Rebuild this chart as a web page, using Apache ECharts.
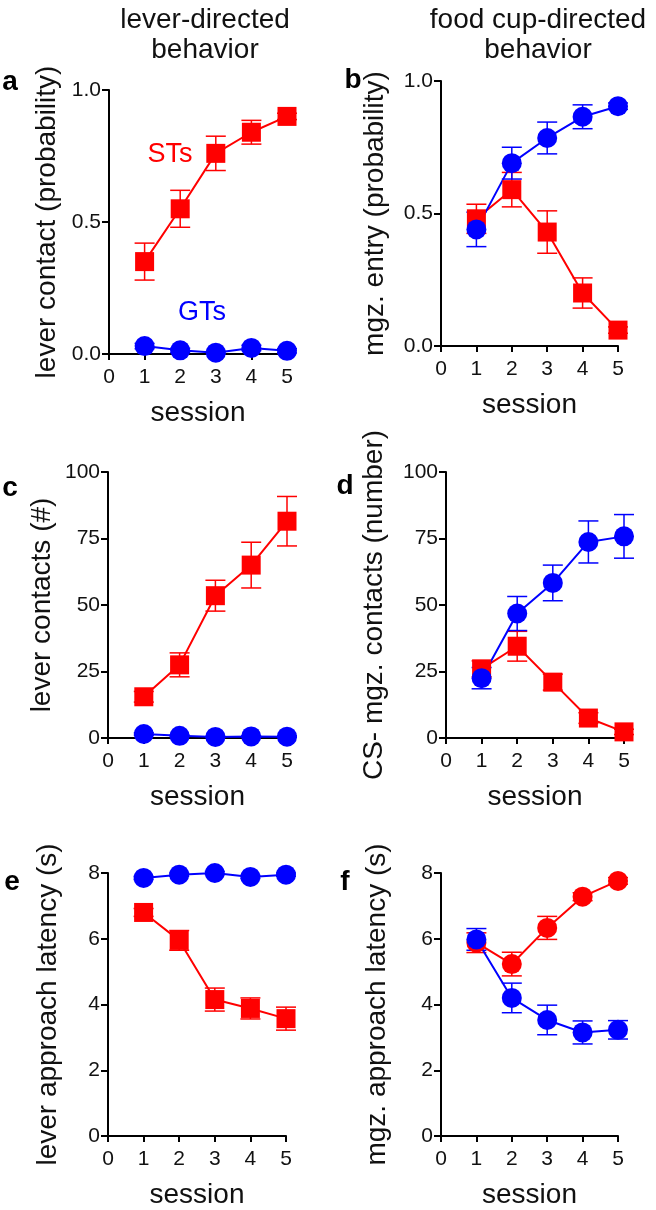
<!DOCTYPE html>
<html>
<head>
<meta charset="utf-8">
<script src="https://cdn.jsdelivr.net/npm/echarts@6/dist/echarts.min.js"></script>
<style>
  html, body { margin: 0; padding: 0; background: #fff; }
  #chart { width: 656px; height: 1210px; }
</style>
</head>
<body>
<div id="chart"></div>
<script>
// sessions on the x axis
const sessions = [1, 2, 3, 4, 5];

// a: lever contact (probability)
const leverProbST = [0.35, 0.55, 0.76, 0.84, 0.90];
const leverProbSTErr = [0.07, 0.07, 0.065, 0.045, 0.012];
const leverProbGT = [0.03, 0.014, 0.005, 0.023, 0.012];
const leverProbGTErr = [0.01, 0.008, 0.005, 0.01, 0.008];

// b: mgz. entry (probability)
const mgzProbST = [0.48, 0.59, 0.43, 0.20, 0.06];
const mgzProbSTErr = [0.055, 0.065, 0.08, 0.057, 0.012];
const mgzProbGT = [0.44, 0.69, 0.785, 0.865, 0.905];
const mgzProbGTErr = [0.065, 0.06, 0.06, 0.045, 0.012];

// c: lever contacts (#)
const leverNumST = [15.5, 27.5, 53.5, 65, 81.5];
const leverNumSTErr = [2, 4.5, 5.8, 8.6, 9.3];
const leverNumGT = [1.5, 0.8, 0.4, 0.6, 0.5];
const leverNumGTErr = [0.5, 0.3, 0.2, 0.3, 0.3];

// d: CS- mgz. contacts (number)
const mgzNumST = [26, 34.5, 21, 7.5, 2.3];
const mgzNumSTErr = [3, 5.6, 3, 2, 1];
const mgzNumGT = [22.5, 46.8, 58.3, 73.7, 75.8];
const mgzNumGTErr = [4, 6.4, 6.7, 7.9, 8.2];

// e: lever approach latency (s)
const leverLatST = [6.8, 5.95, 4.15, 3.88, 3.57];
const leverLatSTErr = [0.12, 0.3, 0.35, 0.32, 0.35];
const leverLatGT = [7.85, 7.95, 8.0, 7.88, 7.95];
const leverLatGTErr = [0.05, 0.05, 0.05, 0.05, 0.05];

// f: mgz. approach latency (s)
const mgzLatST = [5.88, 5.23, 6.33, 7.28, 7.76];
const mgzLatSTErr = [0.3, 0.36, 0.35, 0.12, 0.1];
const mgzLatGT = [5.98, 4.2, 3.53, 3.15, 3.23];
const mgzLatGTErr = [0.33, 0.45, 0.45, 0.35, 0.28];

const RED = '#ff0000';
const BLUE = '#0000ff';
const FONT = 'Liberation Sans, Arial, Helvetica, sans-serif';

let chart = echarts.init(document.getElementById('chart'));

let grids = [];
let xAxes = [];
let yAxes = [];
let series = [];

function errSeries(idx, vals, errs, color) {
  return {
    type: 'custom',
    xAxisIndex: idx,
    yAxisIndex: idx,
    clip: false,
    silent: true,
    data: sessions.map((s, i) => [s, vals[i] - errs[i], vals[i] + errs[i]]),
    renderItem: function (params, api) {
      let lo = api.coord([api.value(0), api.value(1)]);
      let hi = api.coord([api.value(0), api.value(2)]);
      let w = 10;
      let st = { stroke: color, lineWidth: 1.5 };
      return {
        type: 'group',
        children: [
          { type: 'line', shape: { x1: lo[0], y1: lo[1], x2: hi[0], y2: hi[1] }, style: st },
          { type: 'line', shape: { x1: lo[0] - w, y1: lo[1], x2: lo[0] + w, y2: lo[1] }, style: st },
          { type: 'line', shape: { x1: hi[0] - w, y1: hi[1], x2: hi[0] + w, y2: hi[1] }, style: st }
        ]
      };
    }
  };
}

function lineSeries(idx, vals, color, symbol) {
  return {
    type: 'line',
    xAxisIndex: idx,
    yAxisIndex: idx,
    clip: false,
    symbol: symbol,
    symbolSize: symbol === 'rect' ? 19 : 20,
    showAllSymbol: true,
    lineStyle: { color: color, width: 2 },
    itemStyle: { color: color },
    data: sessions.map((s, i) => [s, vals[i]])
  };
}

function panel(p) {
  let idx = grids.length;
  grids.push({ left: p.left, top: p.top, width: p.width, height: p.height });
  xAxes.push({
    gridIndex: idx,
    type: 'value',
    min: 0, max: 5, interval: 1,
    name: 'session',
    nameLocation: 'middle',
    nameGap: 45,
    nameTextStyle: { fontFamily: FONT, fontSize: 28, color: '#111' },
    axisLine: { onZero: false, lineStyle: { color: '#000', width: 2 } },
    axisTick: { length: 6, lineStyle: { color: '#000', width: 2 } },
    axisLabel: { fontFamily: FONT, fontSize: 21, color: '#111', margin: 13 },
    splitLine: { show: false }
  });
  yAxes.push({
    gridIndex: idx,
    type: 'value',
    min: p.min, max: p.max, interval: p.interval,
    name: p.yName,
    nameLocation: 'middle',
    nameRotate: 90,
    nameGap: p.nameGap,
    nameTextStyle: { fontFamily: FONT, fontSize: 28, color: '#111' },
    axisLine: { show: true, lineStyle: { color: '#000', width: 2 } },
    axisTick: { show: true, length: 7, lineStyle: { color: '#000', width: 2 } },
    axisLabel: {
      fontFamily: FONT, fontSize: 21, color: '#111', margin: 8,
      formatter: p.fmt
    },
    splitLine: { show: false }
  });
  series.push(errSeries(idx, p.st, p.stErr, RED));
  series.push(lineSeries(idx, p.st, RED, p.stSymbol));
  series.push(errSeries(idx, p.gt, p.gtErr, BLUE));
  series.push(lineSeries(idx, p.gt, BLUE, 'circle'));
}

const oneDec = v => v.toFixed(1);

panel({ left: 109, top: 90, width: 178, height: 264, min: 0, max: 1, interval: 0.5,
  yName: 'lever contact (probability)', nameGap: 48, fmt: oneDec,
  st: leverProbST, stErr: leverProbSTErr, gt: leverProbGT, gtErr: leverProbGTErr, stSymbol: 'rect' });
panel({ left: 441, top: 81, width: 177, height: 265, min: 0, max: 1, interval: 0.5,
  yName: 'mgz. entry (probability)', nameGap: 52, fmt: oneDec,
  st: mgzProbST, stErr: mgzProbSTErr, gt: mgzProbGT, gtErr: mgzProbGTErr, stSymbol: 'rect' });
panel({ left: 108, top: 472, width: 179, height: 266, min: 0, max: 100, interval: 25,
  yName: 'lever contacts (#)', nameGap: 52, fmt: null,
  st: leverNumST, stErr: leverNumSTErr, gt: leverNumGT, gtErr: leverNumGTErr, stSymbol: 'rect' });
panel({ left: 446, top: 472, width: 178, height: 266, min: 0, max: 100, interval: 25,
  yName: 'CS- mgz. contacts (number)', nameGap: 58, fmt: null,
  st: mgzNumST, stErr: mgzNumSTErr, gt: mgzNumGT, gtErr: mgzNumGTErr, stSymbol: 'rect' });
panel({ left: 108, top: 873, width: 178, height: 267, min: 0, max: 8, interval: 2,
  yName: 'lever approach latency (s)', nameGap: 46, fmt: null,
  st: leverLatST, stErr: leverLatSTErr, gt: leverLatGT, gtErr: leverLatGTErr, stSymbol: 'rect' });
panel({ left: 441, top: 873, width: 177, height: 267, min: 0, max: 8, interval: 2,
  yName: 'mgz. approach latency (s)', nameGap: 50, fmt: null,
  st: mgzLatST, stErr: mgzLatSTErr, gt: mgzLatGT, gtErr: mgzLatGTErr, stSymbol: 'circle' });

function txt(x, y, s, opts) {
  return {
    type: 'text', x: x, y: y, silent: true,
    style: Object.assign({
      text: s, fontFamily: FONT, fontSize: 28, fill: '#111',
      align: 'center', verticalAlign: 'middle'
    }, opts || {})
  };
}

let graphics = [
  txt(205, 20, 'lever-directed'),
  txt(205, 50, 'behavior'),
  txt(538, 20, 'food cup-directed'),
  txt(538, 50, 'behavior'),
  txt(10, 82, 'a', { fontWeight: 'bold', fill: '#000' }),
  txt(353, 80, 'b', { fontWeight: 'bold', fill: '#000' }),
  txt(10, 488, 'c', { fontWeight: 'bold', fill: '#000' }),
  txt(345, 486, 'd', { fontWeight: 'bold', fill: '#000' }),
  txt(12, 882, 'e', { fontWeight: 'bold', fill: '#000' }),
  txt(345, 882, 'f', { fontWeight: 'bold', fill: '#000' }),
  txt(170, 155, 'STs', { fill: RED, fontSize: 27 }),
  txt(202, 313, 'GTs', { fill: BLUE, fontSize: 27 })
];

chart.setOption({
  animation: false,
  backgroundColor: '#fff',
  grid: grids,
  xAxis: xAxes,
  yAxis: yAxes,
  series: series,
  graphic: graphics
});
</script>
</body>
</html>
